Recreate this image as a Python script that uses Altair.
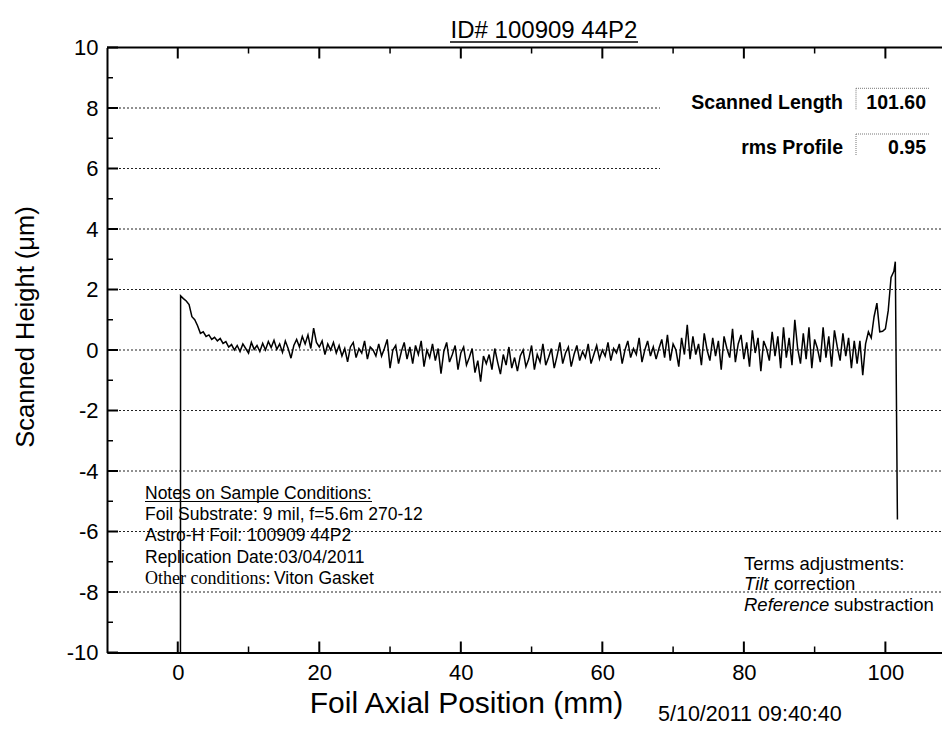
import altair as alt
import pandas as pd

# ---------------- data ----------------
TITLE = "ID# 100909 44P2"
X_TITLE = "Foil Axial Position (mm)"
Y_TITLE = "Scanned Height (\u03bcm)"
X_LABELS = [0, 20, 40, 60, 80, 100]
X_MINOR = [10, 30, 50, 70, 90]
Y_LABELS = [-10, -8, -6, -4, -2, 0, 2, 4, 6, 8, 10]
Y_MINOR = [-9, -7, -5, -3, -1, 1, 3, 5, 7, 9]
GRID_FULL = [-8, -6, -4, -2, 0, 2, 4]
GRID_SHORT = [6, 8]

# scanned profile, sampled every 0.4 mm from 0.4 mm
profile_start = [0.38, -10.0]
profile_y = [
    1.79, 1.70, 1.62, 1.50, 1.10, 1.00, 0.80, 0.55, 0.60, 0.45,
    0.50, 0.35, 0.42, 0.30, 0.38, 0.22, 0.28, 0.10, 0.18, 0.00,
    0.15, -0.05, 0.20, 0.05, -0.10, 0.25, 0.02, 0.15, -0.05, 0.22,
    0.00, 0.28, 0.08, 0.32, 0.02, 0.20, -0.08, 0.30, 0.05, -0.27,
    0.15, 0.35, 0.10, 0.45, 0.20, 0.50, 0.05, 0.72, 0.25, 0.10,
    0.30, -0.15, 0.20, 0.00, 0.25, -0.10, 0.15, -0.20, 0.05, -0.39,
    0.10, 0.25, -0.25, 0.05, -0.10, 0.30, -0.30, 0.10, 0.00, -0.20,
    0.20, -0.20, 0.05, 0.35, -0.60, 0.00, 0.15, -0.45, -0.05, 0.25,
    -0.30, 0.10, -0.45, 0.15, -0.15, 0.30, -0.55, 0.00, -0.25, 0.20,
    -0.35, 0.05, -0.78, -0.05, 0.25, -0.40, -0.15, 0.15, -0.65, -0.10,
    0.10, -0.50, -0.25, 0.05, -0.75, -0.35, -1.05, -0.20, -0.45, -0.15,
    -0.65, 0.05, -0.40, -0.80, -0.15, -0.50, 0.10, -0.60, -0.25, -0.70,
    -0.20, 0.00, -0.55, -0.30, 0.15, -0.65, -0.15, -0.40, 0.20, -0.50,
    -0.25, 0.05, -0.60, -0.20, 0.25, -0.45, -0.10, 0.10, -0.55, -0.15,
    0.15, -0.35, -0.05, -0.25, 0.20, -0.45, -0.15, 0.15, -0.30, 0.00,
    -0.20, 0.25, -0.35, 0.05, -0.10, 0.20, -0.45, 0.00, 0.30, -0.25,
    0.05, -0.15, 0.40, -0.40, 0.00, 0.30, -0.20, 0.10, -0.30, 0.05,
    0.35, -0.25, 0.50, -0.35, 0.20, 0.00, -0.55, 0.40, -0.15, 0.83,
    -0.30, 0.45, -0.15, 0.20, -0.50, 0.55, 0.00, -0.35, 0.40, -0.20,
    0.30, -0.65, 0.45, 0.05, -0.25, 0.70, -0.40, 0.20, 0.50, -0.30,
    0.25, -0.55, 0.65, -0.10, 0.40, -0.70, 0.30, 0.05, -0.35, 0.60,
    -0.20, 0.45, -0.60, 0.75, -0.25, 0.40, -0.50, 1.00, 0.05, -0.45,
    0.55, -0.30, 0.75, -0.60, 0.35, 0.05, -0.40, 0.75, -0.25, 0.45,
    -0.55, 0.65, 0.10, -0.35, 0.55, -0.20, 0.40, -0.60, 0.30, -0.45,
    0.30, -0.83, 0.20, 0.60, 0.40, 1.10, 1.55, 0.60, 0.62, 0.70,
    1.30, 2.40, 2.60,
]
profile_end_x = [101.4, 101.7]
profile_end_y = [2.92, -5.60]
SAMPLE_START = 0.4
SAMPLE_STEP = 0.4

NOTES = [
    "Notes on Sample Conditions:",
    "Foil Substrate: 9 mil, f=5.6m 270-12",
    "Astro-H Foil: 100909 44P2",
    "Replication Date:03/04/2011",
]
NOTE_OTHER = ("Other conditions:", "Viton Gasket")
TERMS_HEAD = "Terms adjustments:"
TERMS = [("Tilt", "correction"), ("Reference", "substraction")]
STATS = [("Scanned Length", "101.60"), ("rms Profile", "0.95")]
STAMP = "5/10/2011 09:40:40"

# ---------------- build ----------------
xs = [profile_start[0]] + [round(SAMPLE_START + SAMPLE_STEP * i, 2) for i in range(len(profile_y))] + profile_end_x
ys = [profile_start[1]] + profile_y + profile_end_y
df = pd.DataFrame({"x": xs, "y": ys, "o": list(range(len(xs)))})

SANS = "Liberation Sans"
SERIF = "Liberation Serif"
W, H = 835, 605
xscale = alt.Scale(domain=[-10, 108], nice=False, zero=False)
yscale = alt.Scale(domain=[-10, 10], nice=False, zero=False)

xaxis = alt.Axis(
    values=X_LABELS, ticks=False, grid=False, domainColor="black", domainWidth=2,
    labelFont=SANS, labelFontSize=22, labelColor="black", labelPadding=10,
    labelFlush=False, labelExpr="'' + datum.value",
    title=X_TITLE, titleFont=SANS, titleFontSize=30,
    titleFontWeight="normal", titleColor="black", titleX=359, titleY=60,
    titleAlign="center", titleBaseline="alphabetic")
yaxis = alt.Axis(
    values=Y_LABELS, ticks=False, grid=False, domainColor="black", domainWidth=2,
    labelFont=SANS, labelFontSize=22, labelColor="black", labelPadding=9,
    labelFlush=False, labelExpr="'' + datum.value",
    title=Y_TITLE, titleFont=SANS, titleFontSize=25.5,
    titleFontWeight="normal", titleColor="black", titleX=-82, titleY=279,
    titleAngle=270, titleAlign="center", titleBaseline="middle")

line = alt.Chart(df).mark_line(color="black", strokeWidth=1.5, clip=True).encode(
    x=alt.X("x:Q", scale=xscale, axis=xaxis),
    y=alt.Y("y:Q", scale=yscale, axis=yaxis),
    order="o:Q",
)

grid_full = alt.Chart(pd.DataFrame({"y": GRID_FULL})).mark_rule(
    color="#222", strokeWidth=1, strokeDash=[2, 2]).encode(
    y=alt.Y("y:Q", scale=yscale, axis=yaxis), x=alt.value(0), x2=alt.value(W))
grid_short = alt.Chart(pd.DataFrame({"y": GRID_SHORT})).mark_rule(
    color="#222", strokeWidth=1, strokeDash=[2, 2]).encode(
    y=alt.Y("y:Q", scale=yscale, axis=yaxis), x=alt.value(0), x2=alt.value(553))


def xticks(vals, y0, y1, w):
    return alt.Chart(pd.DataFrame({"x": vals})).mark_rule(color="black", strokeWidth=w).encode(
        x=alt.X("x:Q", scale=xscale, axis=xaxis), y=alt.value(y0), y2=alt.value(y1))


def yticks(vals, x0, x1, w):
    return alt.Chart(pd.DataFrame({"y": vals})).mark_rule(color="black", strokeWidth=w).encode(
        y=alt.Y("y:Q", scale=yscale, axis=yaxis), x=alt.value(x0), x2=alt.value(x1))


ticks = [
    xticks(X_LABELS, H, H - 11, 2), xticks(X_MINOR, H, H - 6, 1.5),
    xticks(X_LABELS, 0, 11, 2), xticks(X_MINOR, 0, 6, 1.5),
    yticks(Y_LABELS, 0, 11, 2), yticks(Y_MINOR, 0, 6, 1.5),
]

one = pd.DataFrame({"a": [0]})


def seg(x0, x1, y0, y1, color="black", w=2, dash=None):
    kw = dict(color=color, strokeWidth=w)
    if dash:
        kw["strokeDash"] = dash
    return alt.Chart(one).mark_rule(**kw).encode(
        x=alt.value(x0), x2=alt.value(x1), y=alt.value(y0), y2=alt.value(y1))


def label(text, px, py, size, weight="normal", style="normal", font=SANS, align="left"):
    return alt.Chart(pd.DataFrame({"t": [text]})).mark_text(
        align=align, baseline="alphabetic", fontSize=size, fontWeight=weight,
        fontStyle=style, font=font, color="black").encode(
        x=alt.value(px), y=alt.value(py), text="t:N")


deco = [seg(0, W, 0, 0, w=2)]  # top frame
deco += [label(TITLE, 437, -9.5, 24, align="center"), seg(343, 531, -5.5, -5.5, w=1.3)]

# stats boxes
deco += [
    label(STATS[0][0], 736, 61.8, 19.5, weight="bold", align="right"),
    label(STATS[0][1], 819, 61.8, 19.5, weight="bold", align="right"),
    label(STATS[1][0], 736, 106.5, 19.5, weight="bold", align="right"),
    label(STATS[1][1], 819, 106.5, 19.5, weight="bold", align="right"),
    seg(749, 823, 40.8, 40.8, color="#777", w=1, dash=[1, 1]),
    seg(749, 749, 40.8, 62.5, color="#777", w=1, dash=[1, 1]),
    seg(749, 823, 86.5, 86.5, color="#777", w=1, dash=[1, 1]),
    seg(749, 749, 86.5, 107.5, color="#777", w=1, dash=[1, 1]),
]

# notes
nb = [451.5, 472.5, 493.5, 515.5, 536.5]
for t, b in zip(NOTES, nb):
    deco.append(label(t, 38, b, 17.5))
deco.append(seg(38, 265, nb[0] + 2.5, nb[0] + 2.5, w=1.2))
deco.append(label(NOTE_OTHER[0], 38, nb[4], 18, font=SERIF))
deco.append(label(NOTE_OTHER[1], 167, nb[4], 17.5))

# terms
tb = [522.5, 542.5, 563.5]
deco.append(label(TERMS_HEAD, 637, tb[0], 18.5))
deco.append(label(TERMS[0][0], 637, tb[1], 18.5, style="italic"))
deco.append(label(TERMS[0][1], 667, tb[1], 18.5))
deco.append(label(TERMS[1][0], 637, tb[2], 18.5, style="italic"))
deco.append(label(TERMS[1][1], 727, tb[2], 18.5))

deco.append(label(STAMP, 551, 673, 21.5))

chart = alt.layer(grid_full, grid_short, *ticks, line, *deco).properties(
    width=W, height=H,
    padding={"left": 99, "top": 39.5, "right": 0, "bottom": 86},
    autosize=alt.AutoSizeParams(type="none"),
    background="white",
).configure_view(stroke=None)

chart.save("out.html", embed_options={"renderer": "svg", "actions": False})
